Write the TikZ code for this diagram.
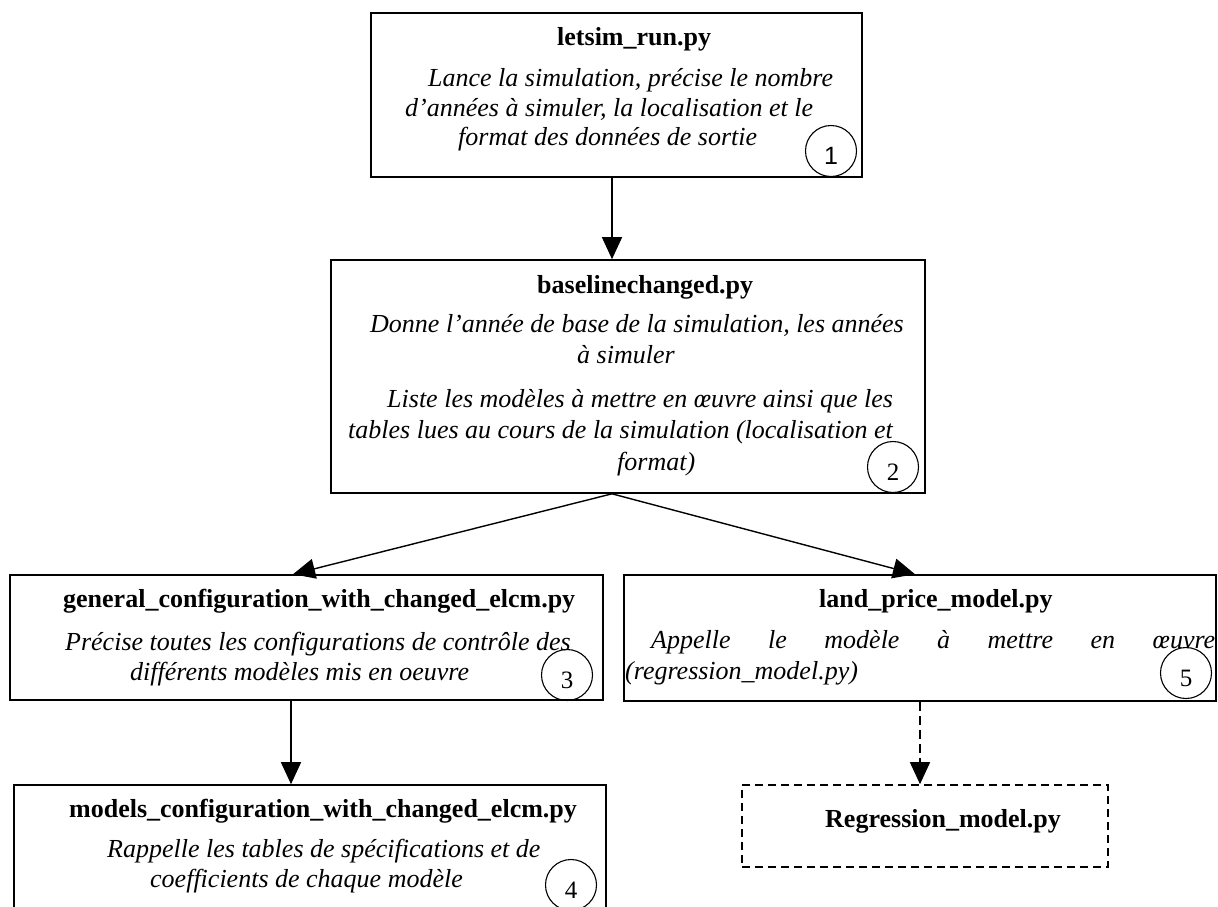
\documentclass[tikz,border=0pt]{standalone}
\usepackage{fontspec}
\setmainfont{Liberation Serif}
\newfontfamily\arialfont{Liberation Sans}
\usetikzlibrary{arrows.meta}
\begin{document}
\begin{tikzpicture}[x=1pt,y=-1pt,
  box/.style={draw, line width=1.6pt, inner sep=0pt},
  num/.style={draw, circle, line width=1.1pt, minimum size=51pt, inner sep=0pt,
    text height=26pt, text depth=0pt, font=\fontsize{25}{25}\selectfont},
  ttl/.style={anchor=base west, inner sep=0pt, font=\fontsize{26}{30}\selectfont\bfseries},
  txt/.style={anchor=base west, inner sep=0pt, font=\fontsize{26}{30}\selectfont\itshape},
  arr/.style={line width=1.4pt, -{Triangle[width=20pt,length=22pt]}}]
\useasboundingbox (0,0) rectangle (1218,906);
\clip (0,0) rectangle (1218,906);

% boxes
\node[box, minimum width=491pt, minimum height=164pt] (b1) at (616.5,95) {};
\node[box, minimum width=594pt, minimum height=233pt] (b2) at (628,376.5) {};
\node[box, minimum width=593pt, minimum height=125pt] (b3) at (306.5,637.5) {};
\node[box, minimum width=592pt, minimum height=127pt] (b4) at (310,848.5) {};
\node[box, minimum width=592pt, minimum height=126pt] (b5) at (920,638) {};
\node[box, dash pattern=on 8pt off 5pt, minimum width=366pt, minimum height=82pt] (b6) at (925,826) {};

% box 1
\node[ttl] (t1) at (557,45) {letsim\_run.py};
\node[txt] (l11) at (428,86) {Lance la simulation, précise le nombre};
\node[txt] (l12) at (405,116) {d’années à simuler, la localisation et le};
\node[txt] (l13) at (458,145) {format des données de sortie};
\node[num, font=\fontsize{25}{25}\arialfont] (c1) at (831,151) {1};

% box 2
\node[ttl] (t2) at (537,293) {baselinechanged.py};
\node[txt] (l21) at (370,332) {Donne l’année de base de la simulation, les années};
\node[txt] (l22) at (577,363) {à simuler};
\node[txt] (l23) at (387,407) {Liste les modèles à mettre en œuvre ainsi que les};
\node[txt] (l24) at (348,438) {tables lues au cours de la simulation (localisation et};
\node[txt] (l25) at (617,470) {format)};
\node[num] (c2) at (893,467) {2};

% box 3
\node[ttl] (t3) at (63,607) {general\_configuration\_with\_changed\_elcm.py};
\node[txt] (l31) at (65,650) {Précise toutes les configurations de contrôle des};
\node[txt] (l32) at (130,680) {différents modèles mis en oeuvre};
\node[num] (c3) at (567,675) {3};

% box 4
\node[ttl] (t4) at (69,817) {models\_configuration\_with\_changed\_elcm.py};
\node[txt] (l41) at (107,857) {Rappelle les tables de spécifications et de};
\node[txt] (l42) at (150,887) {coefficients de chaque modèle};
\node[num] (c4) at (571,885) {4};

% box 5
\node[ttl] (t5) at (819,607) {land\_price\_model.py};
\node[txt] (l51) at (651,648) {\makebox[564pt][s]{Appelle le modèle à mettre en œuvre}};
\node[txt] (l52) at (625,679) {(regression\_model.py)};
\node[num] (c5) at (1186,673) {5};

% box 6
\node[ttl] (t6) at (825,827) {Regression\_model.py};

% connectors
\coordinate (a1) at (612,0);
\coordinate (t3x) at (293,0);
\coordinate (t5x) at (915,0);
\coordinate (a3) at (291,0);
\coordinate (a5) at (920,0);
\draw[arr] (b1.south -| a1) -- (b2.north -| a1);
\draw[arr] (b2.south -| a1) -- (b3.north -| t3x);
\draw[arr] (b2.south -| a1) -- (b5.north -| t5x);
\draw[arr] (b3.south -| a3) -- (b4.north -| a3);
\draw[arr, dash pattern=on 9pt off 5pt] (b5.south -| a5) -- (b6.north -| a5);
\end{tikzpicture}
\end{document}
